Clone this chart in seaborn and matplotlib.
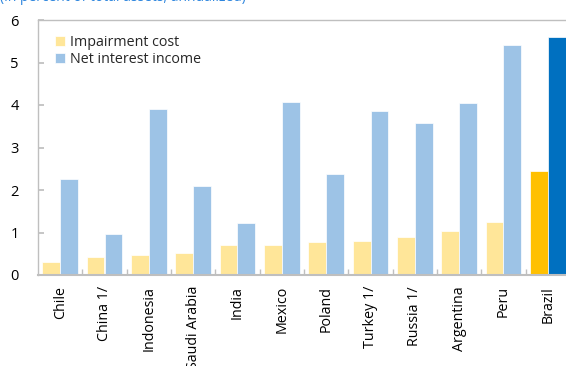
import matplotlib
matplotlib.use("Agg")
import matplotlib.pyplot as plt
import seaborn as sns
import pandas as pd
from matplotlib.ticker import FixedLocator

# Bank profitability components by country
countries = ["Chile", "China 1/", "Indonesia", "Saudi Arabia", "India", "Mexico",
             "Poland", "Turkey 1/", "Russia 1/", "Argentina", "Peru", "Brazil"]
impairment_cost = [0.30, 0.42, 0.48, 0.52, 0.70, 0.71, 0.78, 0.80, 0.90, 1.03, 1.25, 2.45]
net_interest_income = [2.26, 0.97, 3.90, 2.09, 1.22, 4.06, 2.38, 3.85, 3.58, 4.05, 5.41, 5.60]
series_names = ["Impairment cost", "Net interest income"]
y_ticks = [0, 1, 2, 3, 4, 5, 6]

df = pd.DataFrame({
    "country": countries * 2,
    "value": impairment_cost + net_interest_income,
    "series": [series_names[0]] * len(countries) + [series_names[1]] * len(countries),
})

sns.set_theme(style="white")
plt.rcParams["font.family"] = ["Open Sans", "DejaVu Sans"]

light_colors = {"Impairment cost": "#FFE699", "Net interest income": "#9DC3E6"}
highlight_colors = ["#FFC000", "#0070C0"]

W, H = 566, 366
fig = plt.figure(figsize=(W / 100, H / 100), dpi=100)
left, right, top, bottom = 38, 570, 20, 275
ax = fig.add_axes([left / W, 1 - bottom / H, (right - left) / W, (bottom - top) / H])

sns.barplot(data=df, x="country", y="value", hue="series", order=countries,
            hue_order=series_names, palette=light_colors, width=0.81, saturation=1,
            edgecolor="white", linewidth=0.5, ax=ax, legend=True)

# Brazil is highlighted with saturated colours
for container, color in zip(ax.containers, highlight_colors):
    container.patches[-1].set_facecolor(color)

ax.set_xlim(-0.5, len(countries) - 0.5)
ax.set_ylim(0, 6)
ax.set_yticks(y_ticks)
ax.set_xlabel("")
ax.set_ylabel("")

spine_color = "#BFBFBF"
for side in ["left", "bottom", "top"]:
    ax.spines[side].set_visible(True)
    ax.spines[side].set_color(spine_color)
    ax.spines[side].set_linewidth(1.0)
ax.spines["right"].set_visible(False)
ax.spines["bottom"].set_linewidth(1.5)

ax.tick_params(axis="y", direction="in", length=4, color=spine_color, pad=14,
               labelsize=10.5, labelcolor="#000000", left=True)
ax.tick_params(axis="x", which="major", length=0, pad=8, labelsize=10.3, labelcolor="#000000")
ax.xaxis.set_minor_locator(FixedLocator([i + 0.5 for i in range(len(countries) - 1)]))
ax.tick_params(axis="x", which="minor", direction="in", length=4, color=spine_color,
               bottom=True, width=1.0)
plt.setp(ax.get_xticklabels(), rotation=90, ha="center", va="top")

leg = ax.legend(loc="upper left", bbox_to_anchor=(0.016, 0.975), frameon=False,
                fontsize=10.3, handlelength=0.7, handleheight=0.7, handletextpad=0.35,
                labelspacing=0.12, borderaxespad=0.2)

fig.text(0.0, 1.0 + 0.006, "(In percent of total assets; annualized)", color="#2E86DE",
         fontsize=10, ha="left", va="center")

fig.savefig("out.png", dpi=100)
